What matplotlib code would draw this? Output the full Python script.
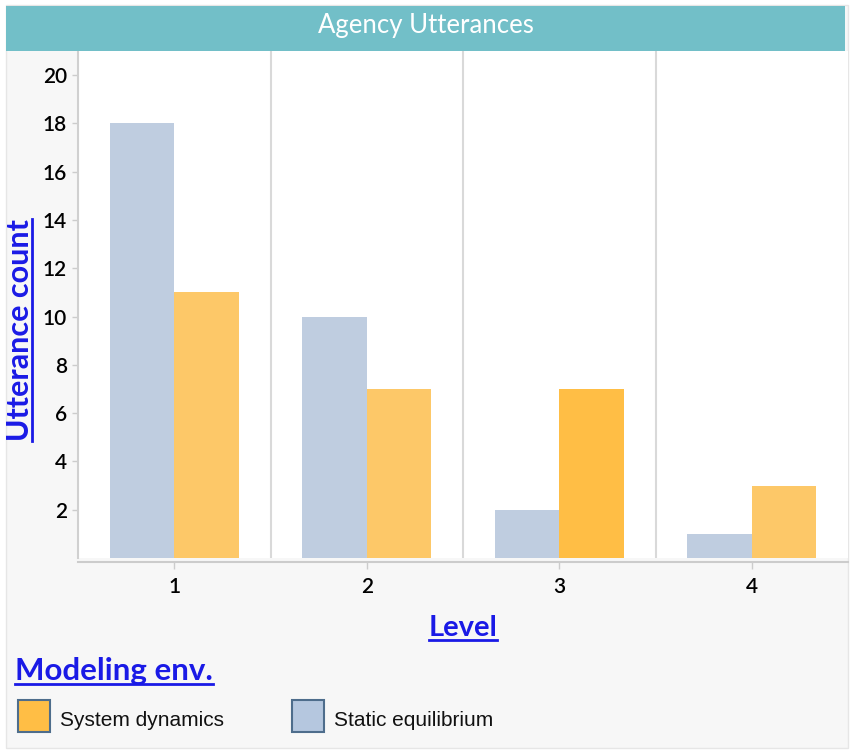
import numpy as np
import matplotlib.pyplot as plt
from matplotlib.patches import Rectangle
from matplotlib.lines import Line2D

# data
levels = ['1', '2', '3', '4']
static_eq = [18, 10, 2, 1]
sys_dyn = [11, 7, 7, 3]
series_names = ['System dynamics', 'Static equilibrium']

W, H = 851, 754
BLUE = '#bfcde0'
ORANGE = '#fdc868'
ORANGE_HI = '#ffbe45'
LINK = '#1a1ae6'
GRID = '#d9d9d9'

fig = plt.figure(figsize=(W / 100, H / 100), dpi=100, facecolor='white')

def px(x, y):
  # pixel coords (top-left origin) -> figure fraction
  return x / W, 1 - y / H

# panel background
fig.patches.append(Rectangle(px(6, 748), 842 / W, 743 / H, transform=fig.transFigure,
                             facecolor='#f7f7f7', edgecolor='#e6e6e6', lw=1, zorder=-10))

# plot area
left, right, top, bottom = 78, 848, 51, 558
ax = fig.add_axes([left / W, 1 - bottom / H, (right - left) / W, (bottom - top) / H])
ax.set_facecolor('white')

x = np.arange(1, len(levels) + 1)
bw = 0.335
ax.bar(x - bw / 2, static_eq, width=bw, color=BLUE, zorder=3)
ocolors = [ORANGE, ORANGE, ORANGE_HI, ORANGE]
ax.bar(x + bw / 2, sys_dyn, width=bw, color=ocolors, zorder=3)

for xv in [1.5, 2.5, 3.5]:
  ax.axvline(xv, color=GRID, lw=1.5, zorder=1)

ax.set_xlim(0.5, 4.5)
ax.set_ylim(0, 21.0)
ax.set_yticks(range(2, 21, 2))
ax.set_xticks(x)
ax.set_xticklabels(levels)

for s in ['top', 'right']:
  ax.spines[s].set_visible(False)
ax.spines['left'].set_color('#d0d0d0')
ax.spines['left'].set_linewidth(1.5)
ax.spines['bottom'].set_color('#cccccc')
ax.spines['bottom'].set_linewidth(1.5)
ax.spines['bottom'].set_position(('outward', 3))
ax.tick_params(axis='y', length=4, width=1, color='#cccccc', pad=4,
               labelsize=15, labelcolor='#000000')
ax.tick_params(axis='x', length=5, width=1, color='#cccccc', pad=6,
               labelsize=15, labelcolor='#000000')
for lab in ax.get_xticklabels() + ax.get_yticklabels():
  lab.set_fontfamily('Lato')
  lab.set_fontweight('semibold')

# title bar
fig.patches.append(Rectangle(px(6, 51), 839 / W, 45 / H, transform=fig.transFigure,
                             facecolor='#72bfc8', edgecolor='none', zorder=5))
fig.text(*px(426, 26), 'Agency Utterances', color='white', fontsize=18.5,
         family='Lato', ha='center', va='center', zorder=6)

# axis titles and legend title
ylab = fig.text(*px(20, 330), 'Utterance count', rotation=90, color=LINK, fontsize=22,
                family='Lato', fontweight='bold', ha='center', va='center')
xlab = fig.text(*px(463, 628), 'Level', color=LINK, fontsize=21,
                family='Lato', fontweight='bold', ha='center', va='center')
ltitle = fig.text(*px(15, 671), 'Modeling env.', color=LINK, fontsize=22.5,
                  family='Lato', fontweight='bold', ha='left', va='center')

fig.canvas.draw()
r = fig.canvas.get_renderer()
inv = fig.transFigure.inverted()
for t in [xlab, ltitle]:
  bb = t.get_window_extent(r).transformed(inv)
  fig.add_artist(Line2D([bb.x0, bb.x1], [bb.y0 + 1 / H, bb.y0 + 1 / H],
                        transform=fig.transFigure, color=LINK, lw=2))
bb = ylab.get_window_extent(r).transformed(inv)
fig.add_artist(Line2D([bb.x1 - 2 / W, bb.x1 - 2 / W], [bb.y0, bb.y1],
                      transform=fig.transFigure, color=LINK, lw=2))

# legend
sw_colors = [ORANGE_HI, '#b5c7df']
sw_x = [18, 292]
for name, c, sx in zip(series_names, sw_colors, sw_x):
  fig.patches.append(Rectangle(px(sx, 732), 32 / W, 32 / H, transform=fig.transFigure,
                               facecolor=c, edgecolor='#4e6d8c', lw=1.5))
  fig.text(*px(sx + 42, 721), name, color='#111111', fontsize=15,
           family='Liberation Sans', ha='left', va='center')

fig.savefig('out.png', dpi=100, facecolor=fig.get_facecolor())
